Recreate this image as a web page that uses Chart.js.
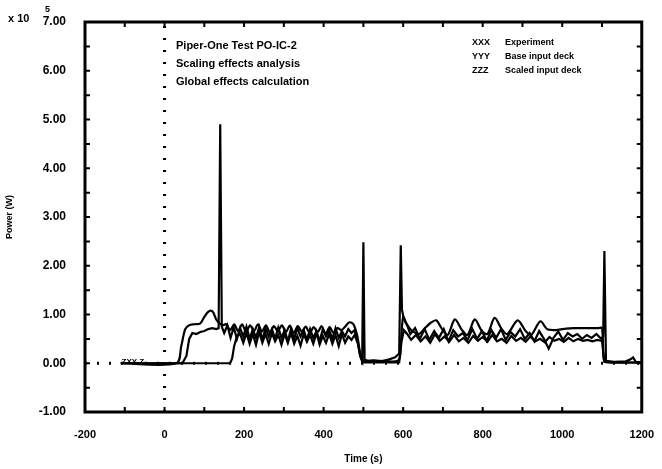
<!DOCTYPE html>
<html>
<head>
<meta charset="utf-8">
<script src="https://cdn.jsdelivr.net/npm/chart.js@4"></script>
<style>
  html, body { margin: 0; padding: 0; background: #fff; }
  canvas { display: block; }
</style>
</head>
<body>
<canvas id="powerChart" width="662" height="469"></canvas>
<script>
// Axis ranges and tick labels
const xRange = [-200, 1200];
const yRange = [-1, 7];
const xTickLabels = [-200, 0, 200, 400, 600, 800, 1000, 1200];
const yTickLabels = ['-1.00', '0.00', '1.00', '2.00', '3.00', '4.00', '5.00', '6.00', '7.00'];

// XXX experiment
const expTime = [-110, 45, 55, 62, 70, 80, 90, 100, 110, 120, 130, 136, 140, 144, 150,
  158, 166, 174, 182, 190, 198, 206, 214, 222, 230, 238, 246, 254, 262, 270, 278, 286, 294, 302, 310, 318,
  326, 334, 342, 350, 358, 366, 374, 382, 390, 398, 406, 414, 422, 430, 438, 446, 454, 462, 470, 478, 486,
  492, 497, 500, 503, 510, 525, 545, 565, 580, 590, 594, 597, 602, 610, 618,
  630, 642, 654, 666, 678, 690, 702, 714, 726, 738, 750, 762, 774, 786, 798, 810, 822, 834, 846, 858,
  870, 882, 894, 906, 918, 930, 942, 954, 966, 978, 990, 1002, 1014, 1026, 1038, 1050, 1062, 1074, 1086, 1098,
  1103, 1106, 1110, 1130, 1160, 1172, 1178, 1185, 1200];
const expPower = [0, 0, 0.15, 0.5, 0.62, 0.6, 0.64, 0.66, 0.7, 0.72, 0.7, 0.72, 4.9, 0.75, 0.62,
  0.78, 0.52, 0.74, 0.5, 0.72, 0.55, 0.75, 0.5, 0.7, 0.52, 0.74, 0.48, 0.72, 0.55, 0.7, 0.5, 0.73, 0.52, 0.68, 0.45, 0.7,
  0.5, 0.72, 0.55, 0.68, 0.48, 0.7, 0.52, 0.66, 0.45, 0.7, 0.55, 0.68, 0.5, 0.72, 0.52, 0.66, 0.55, 0.7, 0.62, 0.68, 0.45,
  0.15, 0.05, 2.48, 0.08, 0.05, 0.06, 0.04, 0.08, 0.12, 0.2, 2.42, 1.1, 0.9, 0.78, 0.6,
  0.72, 0.5, 0.7, 0.48, 0.66, 0.52, 0.7, 0.45, 0.68, 0.55, 0.62, 0.48, 0.7, 0.5, 0.66, 0.46, 0.68, 0.52, 0.7, 0.48,
  0.64, 0.55, 0.7, 0.5, 0.62, 0.45, 0.66, 0.5, 0.3, 0.52, 0.65, 0.48, 0.62, 0.55, 0.6, 0.5, 0.58, 0.52, 0.6, 0.5,
  0.55, 2.3, 0.05, 0.03, 0.04, 0.08, 0.12, 0.03, 0.02];

// YYY base input deck
const baseTime = [-110, 30, 42, 52, 62, 75, 90, 100, 108, 115, 122, 130, 138, 146, 155,
  165, 175, 185, 195, 205, 215, 225, 235, 245, 255, 265, 275, 285, 295, 305, 315,
  325, 335, 345, 355, 365, 375, 385, 395, 405, 415, 425, 435, 445, 455, 465, 475,
  485, 492, 500, 540, 588, 594, 600, 608, 616, 625, 640, 655,
  668, 683, 698, 712, 730, 748, 762, 780, 798, 812, 830, 848, 862, 888, 908, 922, 945, 962, 980,
  1000, 1030, 1060, 1090, 1100, 1104, 1110, 1200];
const basePower = [0, 0, 0.35, 0.7, 0.78, 0.8, 0.82, 0.95, 1.04, 1.08, 1.05, 0.9, 0.82, 0.78, 0.8,
  0.68, 0.8, 0.66, 0.8, 0.64, 0.78, 0.66, 0.8, 0.65, 0.78, 0.63, 0.76, 0.66, 0.78, 0.64, 0.77,
  0.62, 0.76, 0.65, 0.75, 0.62, 0.74, 0.64, 0.76, 0.6, 0.74, 0.62, 0.72, 0.68, 0.76, 0.84, 0.8,
  0.55, 0.2, 0.06, 0.05, 0.06, 0.4, 0.95, 0.82, 0.72, 0.65, 0.6, 0.72,
  0.82, 0.88, 0.7, 0.58, 0.9, 0.68, 0.58, 0.9, 0.66, 0.6, 0.93, 0.7, 0.6, 0.88, 0.66, 0.58, 0.86, 0.7, 0.68,
  0.7, 0.72, 0.72, 0.72, 0.72, 0.1, 0.02, 0.02];

// ZZZ scaled input deck
const scaledTime = [-110, 165, 170, 175, 182, 190,
  198, 206, 214, 222, 230, 238, 246, 254, 262, 270, 278, 286, 294, 302, 310, 318, 326, 334,
  342, 350, 358, 366, 374, 382, 390, 398, 406, 414, 422, 430, 438, 446, 454, 462, 470, 478,
  486, 492, 498, 540, 590, 596, 602, 610,
  620, 632, 644, 656, 668, 680, 692, 704, 716, 728, 740, 752, 764, 776, 788, 800, 812, 824, 836, 848,
  860, 872, 884, 896, 908, 920, 932, 944, 956, 968, 980, 992, 1004, 1016, 1028, 1040, 1052, 1064, 1076, 1088,
  1100, 1106, 1120, 1200];
const scaledPower = [0, 0, 0.1, 0.35, 0.55, 0.6,
  0.42, 0.62, 0.4, 0.6, 0.38, 0.64, 0.42, 0.6, 0.4, 0.62, 0.45, 0.58, 0.38, 0.6, 0.42, 0.62, 0.4, 0.56,
  0.36, 0.6, 0.44, 0.58, 0.4, 0.62, 0.38, 0.56, 0.42, 0.6, 0.4, 0.58, 0.35, 0.6, 0.42, 0.55, 0.48, 0.58,
  0.4, 0.15, 0.02, 0.02, 0.02, 0.45, 0.68, 0.6,
  0.48, 0.58, 0.45, 0.55, 0.42, 0.6, 0.46, 0.55, 0.44, 0.58, 0.45, 0.52, 0.42, 0.56, 0.46, 0.54, 0.44, 0.58, 0.45, 0.5,
  0.42, 0.56, 0.46, 0.52, 0.44, 0.55, 0.45, 0.5, 0.43, 0.54, 0.46, 0.5, 0.44, 0.52, 0.45, 0.5, 0.46, 0.48, 0.45, 0.48,
  0.46, 0.03, 0.02, 0.01];

// dotted reference lines through the origin
const zeroLineTime = [-200, 1200];
const zeroLinePower = [0, 0];
const startLineTime = [0, 0];
const startLinePower = [-1, 7];

const toPoints = (xs, ys) => xs.map((x, i) => ({ x: x, y: ys[i] }));

const FONT = "'Liberation Sans', Arial, sans-serif";
const INK = '#000';

const frameAndNotes = {
    id: 'frameAndNotes',
    afterDraw(chart) {
        const { ctx, chartArea: a, scales } = chart;
        ctx.save();
        ctx.strokeStyle = INK;
        ctx.lineWidth = 3;
        ctx.strokeRect(a.left, a.top, a.right - a.left, a.bottom - a.top);

        // inward ticks on all four sides
        ctx.lineWidth = 2;
        ctx.beginPath();
        for (let v = xRange[0] + 100; v < xRange[1]; v += 100) {
            const px = scales.x.getPixelForValue(v);
            ctx.moveTo(px, a.bottom); ctx.lineTo(px, a.bottom - 5);
            ctx.moveTo(px, a.top); ctx.lineTo(px, a.top + 5);
        }
        for (let v = yRange[0] + 0.5; v < yRange[1]; v += 0.5) {
            const py = scales.y.getPixelForValue(v);
            ctx.moveTo(a.left, py); ctx.lineTo(a.left + 5, py);
            ctx.moveTo(a.right, py); ctx.lineTo(a.right - 5, py);
        }
        ctx.stroke();

        ctx.fillStyle = INK;
        ctx.textBaseline = 'middle';
        ctx.textAlign = 'left';

        // exponent
        ctx.font = 'bold 11px ' + FONT;
        ctx.fillText('x 10', 8, 19);
        ctx.font = 'bold 9px ' + FONT;
        ctx.fillText('5', 45, 10);

        // run description
        ctx.font = 'bold 11px ' + FONT;
        ctx.fillText('Piper-One Test PO-IC-2', 176, 46);
        ctx.fillText('Scaling effects analysis', 176, 64);
        ctx.fillText('Global effects calculation', 176, 82);

        // curve key
        ctx.font = 'bold 9px ' + FONT;
        const key = [['XXX', 'Experiment'], ['YYY', 'Base input deck'], ['ZZZ', 'Scaled input deck']];
        key.forEach((k, i) => {
            ctx.fillText(k[0], 472, 43 + i * 14);
            ctx.fillText(k[1], 505, 43 + i * 14);
        });

        // curve markers at the start of the traces
        ctx.font = 'bold 8px ' + FONT;
        ctx.fillText('ZXY-Z', scales.x.getPixelForValue(-108), scales.y.getPixelForValue(0) - 1);
        ctx.restore();
    }
};

const traceStyle = { borderColor: INK, borderWidth: 2.2, pointRadius: 0, showLine: true, fill: false };

new Chart(document.getElementById('powerChart'), {
    type: 'scatter',
    data: {
        datasets: [
            { label: 'zero', data: toPoints(zeroLineTime, zeroLinePower), borderColor: INK, borderWidth: 3,
              borderDash: [2, 10], pointRadius: 0, showLine: true },
            { label: 'start', data: toPoints(startLineTime, startLinePower), borderColor: INK, borderWidth: 3,
              borderDash: [2, 10], pointRadius: 0, showLine: true },
            { label: 'Experiment', data: toPoints(expTime, expPower), ...traceStyle, tension: 0 },
            { label: 'Base input deck', data: toPoints(baseTime, basePower), ...traceStyle, tension: 0.3 },
            { label: 'Scaled input deck', data: toPoints(scaledTime, scaledPower), ...traceStyle, tension: 0 }
        ]
    },
    options: {
        responsive: false,
        animation: false,
        devicePixelRatio: 1,
        layout: { padding: { top: 22, right: 13, left: 0, bottom: 0 } },
        plugins: { legend: { display: false }, tooltip: { enabled: false } },
        scales: {
            x: {
                type: 'linear',
                min: xRange[0],
                max: xRange[1],
                afterBuildTicks: s => { s.ticks = xTickLabels.map(v => ({ value: v })); },
                afterFit: s => { s.height = 57; },
                grid: { display: false },
                border: { display: false },
                ticks: { color: INK, font: { family: FONT, size: 11, weight: 'bold' }, padding: 8, maxRotation: 0,
                         callback: v => String(v) },
                title: { display: true, text: 'Time (s)', color: INK, font: { family: FONT, size: 10, weight: 'bold' }, padding: { top: 4 } }
            },
            y: {
                min: yRange[0],
                max: yRange[1],
                afterBuildTicks: s => { s.ticks = yTickLabels.map(v => ({ value: parseFloat(v) })); },
                afterFit: s => { s.width = 85; },
                grid: { display: false },
                border: { display: false },
                ticks: { color: INK, font: { family: FONT, size: 12, weight: 'bold' }, padding: 11,
                         callback: v => v.toFixed(2) },
                title: { display: true, text: 'Power (W)', color: INK, font: { family: FONT, size: 9, weight: 'bold' }, padding: { bottom: 0, top: 4 } }
            }
        }
    },
    plugins: [frameAndNotes]
});
</script>
</body>
</html>
